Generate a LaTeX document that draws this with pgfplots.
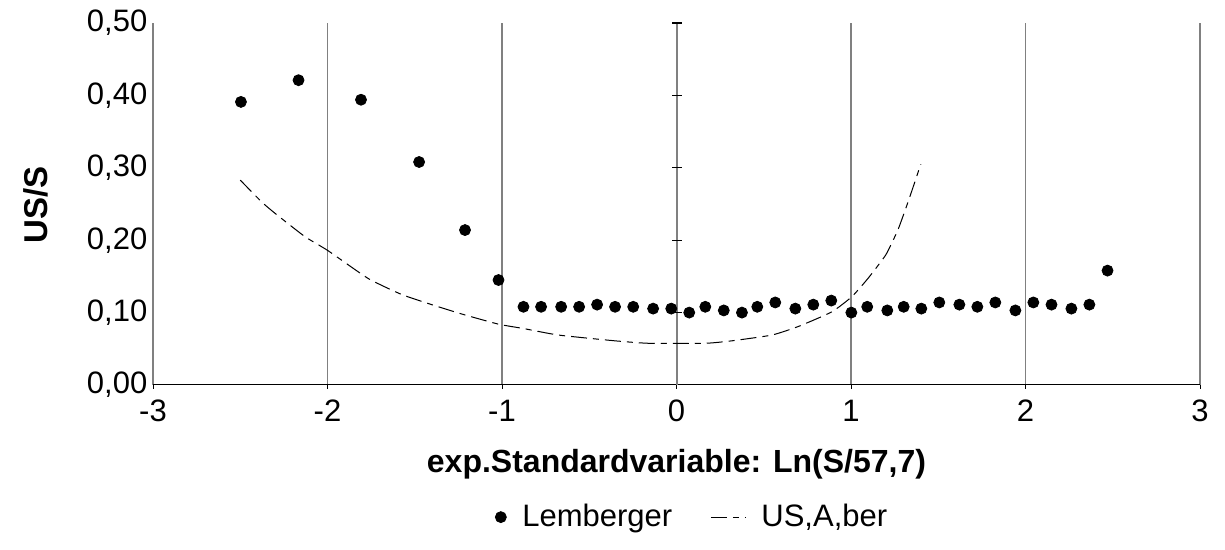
\documentclass[border=0pt]{standalone}
\usepackage{pgfplots}
\pgfplotsset{compat=1.18}
\usepackage{fontspec}
\setmainfont{Liberation Sans}
\newcommand{\chartfont}{\fontsize{15.5}{18}\selectfont}

\begin{document}
\chartfont
\begin{tikzpicture}
  % fix the page to the reference proportions (1 px = 0.5 pt)
  \path[use as bounding box] (-76.5pt,-82.5pt) rectangle (536pt,192.5pt);
  \begin{axis}[
      scale only axis, width=523.5pt, height=181pt,
      xmin=-3, xmax=3, ymin=0, ymax=0.5,
      xtick={-3,-2,-1,0,1,2,3},
      ytick={0,0.1,0.2,0.3,0.4,0.5},
      axis x line*=bottom, axis y line*=left,
      axis line style={-},
      x axis line style={black, line width=0.5pt},
      y axis line style={draw=none},
      xmajorgrids,
      major grid style={gray, line width=0.8pt},
      tick align=outside, major tick length=2pt,
      xtick style={black, line width=0.5pt},
      ytick style={draw=none},
      /pgf/number format/assume math mode=true,
      tick label style={font=\chartfont},
      yticklabel style={xshift=4.5pt, /pgf/number format/.cd, fixed, fixed zerofill, precision=2, use comma},
      xlabel={exp.Standardvariable: Ln(S/57,7)},
      ylabel={US/S},
      xlabel style={at={(0.5,-0.218)}, anchor=center, font=\fontsize{16}{19}\selectfont\bfseries},
      ylabel style={at={(-0.112,0.497)}, anchor=center, font=\fontsize{16.5}{19}\selectfont\bfseries},
      legend style={at={(0.516,-0.365)}, anchor=center, draw=none, fill=none,
        font=\chartfont, legend columns=2,
        /tikz/every odd column/.append style={column sep=6pt},
        /tikz/every even column/.append style={column sep=17pt}},
      legend cell align=left,
    ]
    % thicker line at x = 0 with its crossing ticks
    \addplot[gray, line width=1pt, forget plot] coordinates {(0,0) (0,0.5)};
    \addplot[only marks, mark=-, mark size=2.5pt, black, line width=0.6pt, forget plot]
      coordinates {(0,0.1) (0,0.2) (0,0.3) (0,0.4) (0,0.5)};

    \addplot[only marks, mark=*, mark size=2.75pt, black] coordinates {
      (-2.496,0.391) (-2.166,0.421) (-1.808,0.394) (-1.475,0.308) (-1.212,0.214)
      (-1.020,0.145) (-0.877,0.108) (-0.776,0.108) (-0.661,0.108) (-0.558,0.108)
      (-0.455,0.111) (-0.352,0.108) (-0.248,0.108) (-0.134,0.1055) (-0.030,0.1055)
      (0.073,0.100) (0.165,0.108) (0.271,0.103) (0.375,0.100) (0.463,0.108)
      (0.566,0.114) (0.681,0.1055) (0.784,0.111) (0.887,0.1166) (1.002,0.100)
      (1.093,0.108) (1.208,0.103) (1.302,0.108) (1.403,0.1055) (1.506,0.114)
      (1.621,0.111) (1.724,0.108) (1.827,0.114) (1.942,0.103) (2.045,0.114)
      (2.149,0.111) (2.263,0.1055) (2.366,0.111) (2.470,0.158)};
    \addlegendentry{Lemberger}

    \addplot[black, line width=0.5pt, smooth, tension=0.3,
      dash pattern=on 8pt off 3pt on 3pt off 3pt] coordinates {
      (-2.5,0.283) (-2.378,0.253) (-2.30,0.237) (-2.13,0.205) (-2.0,0.186)
      (-1.766,0.147) (-1.575,0.125) (-1.403,0.111) (-1.23,0.098) (-1.02,0.084)
      (-0.877,0.078) (-0.677,0.069) (-0.352,0.061) (-0.16,0.0576) (0.165,0.0576)
      (0.317,0.061) (0.547,0.069) (0.70,0.081) (0.89,0.101) (1.005,0.122)
      (1.10,0.148) (1.20,0.180) (1.27,0.215) (1.33,0.255) (1.40,0.305)};
    \addlegendentry{US,A,ber}
  \end{axis}
\end{tikzpicture}
\end{document}
